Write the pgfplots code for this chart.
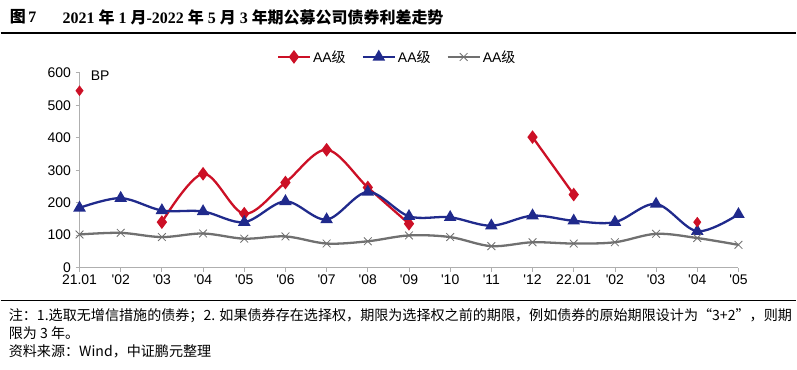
\documentclass[border=0pt]{standalone}
\usepackage{fontspec}
\usepackage{pgfplots}
\pgfplotsset{compat=1.18}
\setmainfont{Liberation Sans}
\newfontfamily\cjk{Noto Sans CJK SC}
\newfontfamily\tnr{Liberation Serif}
\definecolor{cred}{RGB}{204,16,38}
\definecolor{cblue}{RGB}{32,42,140}
\definecolor{cgray}{RGB}{112,112,112}
\definecolor{caxis}{RGB}{175,175,175}
\newcommand\C[1]{{\cjk #1}}
\begin{document}
\begin{tikzpicture}
\path (0pt,0pt) rectangle (797pt,370pt);
\node[anchor=west,inner sep=0pt] at (9pt,353pt) {\fontsize{16}{16}\selectfont\bfseries \C{图}\,{\tnr 7}};
\node[anchor=west,inner sep=0pt] at (62pt,353pt) {\fontsize{16}{16}\selectfont\bfseries\tnr 2021 \C{年} 1 \C{月}-2022 \C{年} 5 \C{月} 3 \C{年期公募公司债券利差走势}};
\draw[line width=1.3pt] (0pt,337pt) -- (797pt,337pt);
\draw[line width=1pt] (0pt,69pt) -- (797pt,69pt);
\node[anchor=west,inner sep=0pt] at (8pt,54pt) {\fontsize{14.1}{14.1}\selectfont\cjk 注：1.选取无增信措施的债券；2. 如果债券存在选择权，期限为选择权之前的期限，例如债券的原始期限设计为“3+2”，则期};
\node[anchor=west,inner sep=0pt] at (8pt,36pt) {\fontsize{14.1}{14.1}\selectfont\cjk 限为 3 年。};
\node[anchor=west,inner sep=0pt] at (8pt,18pt) {\fontsize{14.1}{14.1}\selectfont\cjk 资料来源：Wind，中证鹏元整理};
\begin{axis}[
  at={(79pt,102pt)}, anchor=south west,
  scale only axis, width=660pt, height=195pt,
  xmin=0, xmax=16, ymin=0, ymax=600,
  axis lines=left,
  axis line style={-, draw=caxis, line width=1pt},
  xtick={0,...,16},
  xticklabels={21.01,\textquotesingle02,\textquotesingle03,\textquotesingle04,\textquotesingle05,\textquotesingle06,\textquotesingle07,\textquotesingle08,\textquotesingle09,\textquotesingle10,\textquotesingle11,\textquotesingle12,22.01,\textquotesingle02,\textquotesingle03,\textquotesingle04,\textquotesingle05},
  ytick={0,100,...,600},
  tick align=outside, major tick length=4pt,
  tick style={draw=caxis, line width=0.8pt},
  tick label style={font=\fontsize{14}{14}\selectfont},
  yticklabel style={xshift=-1pt},
  /pgf/number format/assume math mode=true,
  legend style={draw=none, fill=none, at={(0.482,1.082)}, anchor=center,
    font=\fontsize{14}{14}\selectfont,
    /tikz/every even column/.append style={column sep=14pt}},
  legend columns=3,
  legend image code/.code={\draw[mark repeat=2,mark phase=2] plot coordinates {(0pt,0pt)(16pt,0pt)(32pt,0pt)};},
  clip=false,
]
\addplot[cred, line width=2.3pt, smooth, tension=0.55, mark=diamond*, mark size=5pt, mark options={solid,fill=cred}]
  coordinates {(2,140)(3,289)(4,166)(5,262)(6,363)(7,247)(8,135)};
\addlegendentry{AA\C{级}}
\addplot[cblue, line width=2.3pt, smooth, tension=0.55, mark=triangle*, mark size=5pt, mark options={solid,fill=cblue}]
  coordinates {(0,184)(1,214)(2,176)(3,173)(4,140)(5,204)(6,148)(7,233)(8,158)(9,155)(10,129)(11,160)(12,144)(13,140)(14,196)(15,112)(16,164)};
\addlegendentry{AA\C{级}}
\addplot[cgray, line width=2.3pt, smooth, tension=0.55, mark=x, mark size=5.5pt, mark options={solid,line width=0.8pt}]
  coordinates {(0,102)(1,107)(2,94)(3,105)(4,89)(5,96)(6,74)(7,81)(8,99)(9,94)(10,66)(11,78)(12,74)(13,78)(14,104)(15,91)(16,70)};
\addlegendentry{AA\C{级}}
\addplot[cred, line width=2.3pt, mark=diamond*, mark size=5pt, mark options={solid,fill=cred}, forget plot]
  coordinates {(11,402)(12,225)};
\addplot[cred, only marks, mark=diamond*, mark size=5pt, mark options={solid,fill=cred}, forget plot]
  coordinates {(0,545)(15,140)};
\node[anchor=west,inner sep=0pt,font=\fontsize{14}{14}\selectfont] at (rel axis cs:0.017,0.985) {BP};
\end{axis}
\end{tikzpicture}
\end{document}
